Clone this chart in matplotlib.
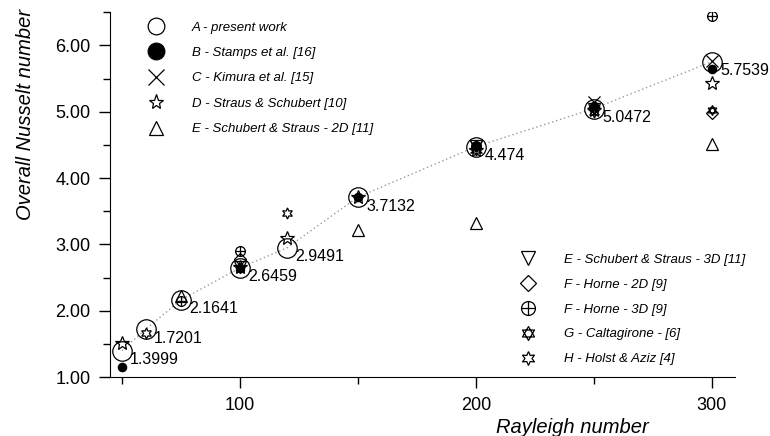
import matplotlib
matplotlib.use("Agg")
import matplotlib.pyplot as plt
from matplotlib.path import Path
from matplotlib.lines import Line2D
from matplotlib.ticker import MultipleLocator, FormatStrFormatter
import numpy as np

plt.rcParams['font.family'] = ['Liberation Sans', 'DejaVu Sans']

# A - present work
ra_a = [50, 60, 75, 100, 120, 150, 200, 250, 300]
nu_a = [1.3999, 1.7201, 2.1641, 2.6459, 2.9491, 3.7132, 4.474, 5.0472, 5.7539]
lab_a = ["1.3999", "1.7201", "2.1641", "2.6459", "2.9491", "3.7132", "4.474", "5.0472", "5.7539"]

# B - Stamps et al.
ra_b = [50, 100, 150, 200, 250, 300]
nu_b = [1.16, 2.65, 3.72, 4.49, 5.08, 5.65]
# C - Kimura et al.
ra_c = [200, 250, 300]
nu_c = [4.47, 5.14, 5.77]
# D - Straus & Schubert
ra_d = [50, 100, 120, 150, 200, 250, 300]
nu_d = [1.51, 2.66, 3.10, 3.72, 4.43, 5.02, 5.43]
# E - Schubert & Straus 2D
ra_e2 = [75, 150, 200, 300]
nu_e2 = [2.22, 3.22, 3.32, 4.52]
# E - Schubert & Straus 3D
ra_e3 = [100, 200, 250]
nu_e3 = [2.66, 4.48, 5.04]
# F - Horne 2D
ra_f2 = [100, 300]
nu_f2 = [2.78, 4.98]
# F - Horne 3D
ra_f3 = [75, 100, 200, 300]
nu_f3 = [2.15, 2.90, 4.48, 6.44]
# G - Caltagirone
ra_g = [100, 200, 250, 300]
nu_g = [2.65, 4.48, 5.04, 5.03]
# H - Holst & Aziz
ra_h = [60, 120, 200, 250]
nu_h = [1.66, 3.48, 4.42, 5.00]

# custom markers
circ = Path.unit_circle()
cross = Path([[-1, 0], [1, 0], [0, -1], [0, 1]],
             [Path.MOVETO, Path.LINETO, Path.MOVETO, Path.LINETO])
oplus = Path.make_compound_path(circ, cross)
ang_up = np.deg2rad([90, 210, 330, 90])
ang_dn = np.deg2rad([270, 30, 150, 270])
tri_up = Path(np.c_[np.cos(ang_up), np.sin(ang_up)],
              [Path.MOVETO, Path.LINETO, Path.LINETO, Path.CLOSEPOLY])
tri_dn = Path(np.c_[np.cos(ang_dn), np.sin(ang_dn)],
              [Path.MOVETO, Path.LINETO, Path.LINETO, Path.CLOSEPOLY])
hexa = Path.make_compound_path(tri_up, tri_dn)

fig = plt.figure(figsize=(7.7, 4.36), dpi=100)
ax = fig.add_axes([0.143, 0.135, 0.812, 0.837])

ax.plot(ra_a, nu_a, ls=(0, (1, 2)), color='#999999', lw=1.0, zorder=1)

kw = dict(ls='none', color='black', mew=0.9, zorder=3)
series = [
    (ra_a, nu_a, dict(marker='o', ms=14, mfc='none'), 'A - present work', 12),
    (ra_b, nu_b, dict(marker='o', ms=6, mfc='black'), 'B - Stamps et al. [16]', 12),
    (ra_c, nu_c, dict(marker='x', ms=9), 'C - Kimura et al. [15]', 11),
    (ra_d, nu_d, dict(marker='*', ms=10, mfc='none'), 'D - Straus & Schubert [10]', 11),
    (ra_e2, nu_e2, dict(marker='^', ms=8, mfc='none'), 'E - Schubert & Straus - 2D [11]', 10),
    (ra_e3, nu_e3, dict(marker='v', ms=8, mfc='none'), 'E - Schubert & Straus - 3D [11]', 10),
    (ra_f2, nu_f2, dict(marker='D', ms=6, mfc='none'), 'F - Horne - 2D [9]', 8),
    (ra_f3, nu_f3, dict(marker=oplus, ms=7, mfc='none'), 'F - Horne - 3D [9]', 10),
    (ra_g, nu_g, dict(marker=hexa, ms=7, mfc='none'), 'G - Caltagirone - [6]', 10),
    (ra_h, nu_h, dict(marker=(6, 1, 0), ms=8, mfc='none'), 'H - Holst & Aziz [4]', 10),
]

handles = []
for ra, nu, st, lab, lms in series:
    ax.plot(ra, nu, **kw, **st)
    hst = dict(st)
    hst['ms'] = lms
    handles.append(Line2D([], [], **kw, **hst, label=lab))

for x, y, t in zip(ra_a, nu_a, lab_a):
    ax.annotate(t, (x, y), xytext=(6, -1), textcoords='offset points',
                ha='left', va='top', fontsize=11.5)

leg_font = dict(size=9.5, style='italic')
leg1 = ax.legend(handles=handles[:5], loc='upper left', bbox_to_anchor=(0.05, 0.993),
                 frameon=False, prop=leg_font, handlelength=1.2, handletextpad=2.1,
                 labelspacing=1.0, borderpad=0)
ax.add_artist(leg1)
ax.legend(handles=handles[5:], loc='upper left', bbox_to_anchor=(0.645, 0.356),
          frameon=False, prop=leg_font, handlelength=1.2, handletextpad=2.1,
          labelspacing=0.95, borderpad=0)

ax.set_xlim(45, 310)
ax.set_ylim(1.0, 6.5)
ax.xaxis.set_major_locator(MultipleLocator(100))
ax.xaxis.set_minor_locator(MultipleLocator(50))
ax.yaxis.set_major_locator(MultipleLocator(1))
ax.yaxis.set_minor_locator(MultipleLocator(0.5))
ax.yaxis.set_major_formatter(FormatStrFormatter('%.2f'))
ax.tick_params(which='major', direction='out', length=8, width=1, labelsize=13, pad=6)
ax.tick_params(which='minor', direction='out', length=5, width=1)
for s in ['top', 'right']:
    ax.spines[s].set_visible(False)

ax.set_xlabel('Rayleigh number', fontsize=14.5, style='italic', x=0.74, labelpad=3)
ax.set_ylabel('Overall Nusselt number', fontsize=14.5, style='italic', y=0.72, labelpad=15)

fig.savefig('out.png', dpi=100)
